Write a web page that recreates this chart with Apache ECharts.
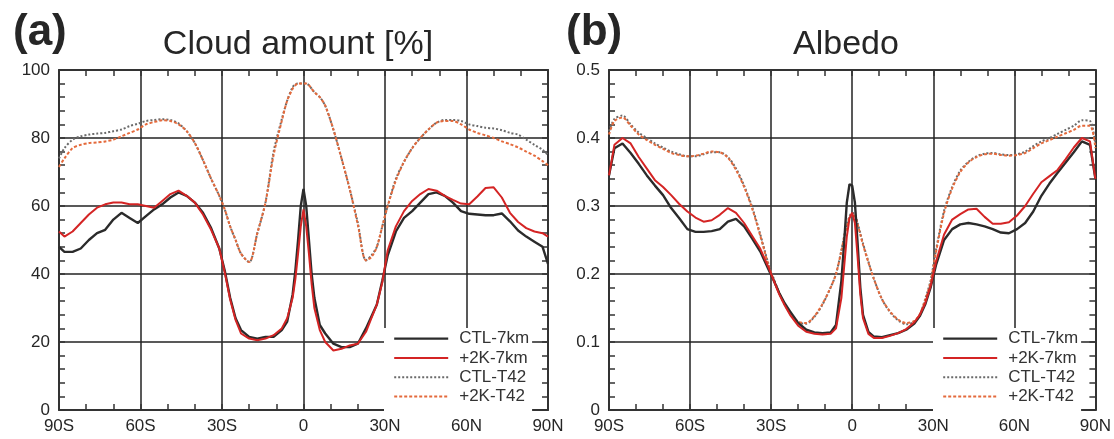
<!DOCTYPE html>
<html>
<head>
<meta charset="utf-8">
<script src="https://cdn.jsdelivr.net/npm/echarts@6/dist/echarts.min.js"></script>
<style>
  html, body { margin: 0; padding: 0; background: #fff; }
  #chart { width: 1114px; height: 439px; }
</style>
</head>
<body>
<div id="chart"></div>
<script>
// Zonal-mean latitude grid (degrees, south negative)
const lat = [-90,-88,-85,-82,-79,-76,-73,-70,-67,-64,-61,-58,-55,-52,-49,-46,-43,-40,-37,-34,-31,-29,-27,-25,-23,-20,-17,-14,-11,-8,-6,-4,-3,-2,-1,0,1,2,3,4,6,8,11,14,17,20,23,25,27,29,31,34,37,40,43,46,49,52,55,58,61,64,67,70,73,76,79,82,85,88,90];

const seriesNames = ['CTL-7km', '+2K-7km', 'CTL-T42', '+2K-T42'];
const latLabels = ['90S', '60S', '30S', '0', '30N', '60N', '90N'];
const cloudTicks = ['0', '20', '40', '60', '80', '100'];
const albedoTicks = ['0', '0.1', '0.2', '0.3', '0.4', '0.5'];

// (a) Cloud amount [%]
const cloudCtl7 = [48,46.5,46.5,47.5,50,52,53,56,58,56.5,55,57,59,60.5,62.5,64,63,61,58,53.5,47.5,41,33,27,23.5,21.5,21,21.5,21.5,23.5,26,34,41,50,60,65,60,50,40,33,25,22.5,19.5,18.5,18.5,19.5,24,27.5,31,38,45.5,52.5,56.5,58.5,61,63.5,64,63,61,58.5,57.7,57.5,57.3,57.3,57.8,55.5,52.8,51,49.5,48,43];
const cloudWarm7 = [52.5,51,52.5,55,57.5,59.5,60.5,61,61,60.5,60.5,60,59.5,61.5,63.5,64.5,63,61,57.5,53,47.5,40.5,32.5,26.5,22.5,21,20.5,21,22,24,27,33,38.5,46,54,59,54,46,37,30,23.5,20,17.5,18,19,19.5,23,27,31,37.5,47,54,58.5,61.5,63.5,65,64.5,63,61.8,60.7,60.5,62.8,65.3,65.5,62.5,58,55.3,53.5,52.5,52,51];
const cloudCtlT42 = [74,77,79.5,80.5,81,81.3,81.5,82,82.5,83.5,84.2,85,85.3,85.5,85.3,84.3,82,78.5,73.5,68,63,59,54,50,46,43.5,52,61,76,85.5,91,95,95.8,96,96,96,96,95.5,94.5,93.5,92,89.5,82.5,74,65,55,44,45.5,48,54,60,68,73,77,80,82.5,84.5,85.3,85.3,85,84,83.5,83,82.8,82.3,81.5,81,79.5,78,76.5,75];
const cloudWarmT42 = [71.5,74,77,78,78.5,78.7,79,79.5,80.5,81.5,82.5,84,84.7,85.2,85,84,82,78.5,73.5,68,63,59,54,50,46,43.5,52,61,75,85,91,94.5,95.5,96,96,96,96,95.5,94.5,93.5,92,89.5,82.5,74,65,54.5,44,45,48,54,60,67.5,73,77,80,82.5,84.5,85,85,84,82.5,81.5,80.8,80,79,78.2,77.2,76,74.8,73.2,72];

// (b) Albedo
const albedoCtl7 = [0.345,0.385,0.392,0.378,0.362,0.345,0.33,0.316,0.297,0.282,0.266,0.262,0.262,0.263,0.266,0.277,0.281,0.27,0.252,0.233,0.207,0.19,0.172,0.157,0.145,0.128,0.118,0.114,0.113,0.114,0.125,0.19,0.245,0.305,0.332,0.33,0.305,0.245,0.18,0.14,0.115,0.108,0.107,0.11,0.113,0.118,0.127,0.138,0.155,0.18,0.213,0.25,0.266,0.273,0.275,0.273,0.27,0.266,0.261,0.26,0.266,0.275,0.292,0.315,0.333,0.349,0.364,0.379,0.395,0.39,0.34];
const albedoWarm7 = [0.345,0.39,0.4,0.392,0.372,0.355,0.338,0.328,0.316,0.303,0.292,0.283,0.277,0.279,0.287,0.297,0.29,0.275,0.256,0.237,0.21,0.19,0.17,0.154,0.14,0.124,0.115,0.112,0.111,0.112,0.12,0.165,0.21,0.255,0.282,0.29,0.275,0.225,0.17,0.135,0.112,0.106,0.106,0.109,0.113,0.119,0.129,0.14,0.157,0.182,0.218,0.258,0.28,0.288,0.295,0.296,0.284,0.274,0.274,0.276,0.286,0.3,0.318,0.335,0.344,0.353,0.369,0.386,0.4,0.395,0.34];
const albedoCtlT42 = [0.41,0.428,0.433,0.42,0.408,0.4,0.392,0.386,0.38,0.376,0.373,0.373,0.376,0.379,0.379,0.372,0.355,0.33,0.298,0.258,0.215,0.193,0.172,0.155,0.142,0.128,0.127,0.137,0.155,0.18,0.2,0.235,0.255,0.272,0.285,0.29,0.287,0.275,0.26,0.245,0.218,0.193,0.163,0.144,0.132,0.126,0.13,0.14,0.163,0.19,0.235,0.293,0.328,0.352,0.365,0.373,0.377,0.378,0.376,0.375,0.376,0.38,0.388,0.395,0.4,0.406,0.412,0.418,0.426,0.425,0.39];
const albedoWarmT42 = [0.405,0.425,0.43,0.418,0.405,0.397,0.39,0.384,0.378,0.375,0.373,0.374,0.377,0.38,0.379,0.371,0.353,0.328,0.296,0.256,0.213,0.191,0.172,0.156,0.143,0.13,0.128,0.138,0.156,0.18,0.2,0.234,0.254,0.27,0.283,0.288,0.285,0.273,0.258,0.243,0.217,0.193,0.163,0.145,0.133,0.128,0.131,0.141,0.162,0.188,0.232,0.29,0.326,0.35,0.364,0.372,0.376,0.377,0.375,0.374,0.375,0.378,0.385,0.392,0.397,0.402,0.407,0.412,0.418,0.418,0.385];

const FONT = "'Liberation Sans', Arial, Helvetica, sans-serif";
const INK = '#262626';

const lineStyles = [
  { color: '#2b2b2b', width: 2.4, type: 'solid' },
  { color: '#d42424', width: 2, type: 'solid' },
  { color: '#6a6a6a', width: 2, type: [2, 2] },
  { color: '#e46a3c', width: 2, type: [3, 2] }
];

function pairs(values) {
  return lat.map((x, i) => [x, values[i]]);
}

function makeSeries(gridIdx, arrays) {
  return arrays.map((arr, k) => ({
    name: seriesNames[k],
    type: 'line',
    xAxisIndex: gridIdx * 2,
    yAxisIndex: gridIdx * 2,
    data: pairs(arr),
    showSymbol: false,
    symbol: 'none',
    smooth: k >= 2 ? 0.3 : false,
    z: k >= 2 ? 2 : 3,
    lineStyle: lineStyles[k],
    itemStyle: { color: lineStyles[k].color },
    emphasis: { disabled: true },
    animation: false
  }));
}

const frameLine = { show: true, onZero: false, lineStyle: { color: '#333', width: 2 } };
const minorTickStyle = { color: '#333', width: 1.5 };
const gridLineStyle = { color: '#222', width: 1.5 };

function xAxes(gridIdx) {
  const base = { gridIndex: gridIdx, type: 'value', min: -90, max: 90, interval: 30 };
  return [
    Object.assign({}, base, {
      position: 'bottom',
      axisLine: frameLine,
      axisTick: { show: true, inside: true, length: 6, lineStyle: minorTickStyle },
      minorTick: { show: true, splitNumber: 3, length: 6, lineStyle: minorTickStyle },
      splitLine: { show: true, lineStyle: gridLineStyle },
      axisLabel: {
        margin: 8, fontSize: 17, fontFamily: FONT, color: INK,
        formatter: v => latLabels[Math.round((v + 90) / 30)]
      }
    }),
    Object.assign({}, base, {
      position: 'top',
      axisLine: frameLine,
      axisTick: { show: true, inside: true, length: 6, lineStyle: minorTickStyle },
      minorTick: { show: true, splitNumber: 3, length: 6, lineStyle: minorTickStyle },
      splitLine: { show: false },
      axisLabel: { show: false }
    })
  ];
}

function yAxes(gridIdx, max, step, ticks) {
  const base = { gridIndex: gridIdx, type: 'value', min: 0, max: max, interval: step };
  return [
    Object.assign({}, base, {
      position: 'left',
      axisLine: frameLine,
      axisTick: { show: true, inside: true, length: 6, lineStyle: minorTickStyle },
      minorTick: { show: true, splitNumber: 5, length: 6, lineStyle: minorTickStyle },
      splitLine: { show: true, lineStyle: gridLineStyle },
      axisLabel: {
        margin: 9, fontSize: 17, fontFamily: FONT, color: INK,
        formatter: v => ticks[Math.round(v / step)]
      }
    }),
    Object.assign({}, base, {
      position: 'right',
      axisLine: frameLine,
      axisTick: { show: true, inside: true, length: 6, lineStyle: minorTickStyle },
      minorTick: { show: true, splitNumber: 5, length: 6, lineStyle: minorTickStyle },
      splitLine: { show: false },
      axisLabel: { show: false }
    })
  ];
}

function legendFor(left) {
  return {
    orient: 'vertical',
    left: left,
    top: 328,
    data: seriesNames,
    itemWidth: 54,
    itemHeight: 14,
    itemGap: 0,
    padding: [1, 3, 5, 9],
    backgroundColor: '#fff',
    selectedMode: false,
    // line samples only, no marker dot
    itemStyle: { opacity: 0 },
    lineStyle: { width: 'inherit' },
    textStyle: { fontSize: 17, lineHeight: 19.3, fontFamily: FONT, color: '#333', padding: [0, 0, 0, 6] }
  };
}

const chart = echarts.init(document.getElementById('chart'), null, { renderer: 'canvas' });

chart.setOption({
  animation: false,
  backgroundColor: '#fff',
  title: [
    { text: '(a)', left: 13, top: 11, padding: 0, textStyle: { fontSize: 44, fontWeight: 'bold', fontFamily: FONT, color: INK } },
    { text: 'Cloud amount [%]', left: 298, top: 28, padding: 0, textAlign: 'center', textStyle: { fontSize: 34, fontWeight: 'normal', fontFamily: FONT, color: INK } },
    { text: '(b)', left: 566, top: 11, padding: 0, textStyle: { fontSize: 44, fontWeight: 'bold', fontFamily: FONT, color: INK } },
    { text: 'Albedo', left: 846, top: 28, padding: 0, textAlign: 'center', textStyle: { fontSize: 34, fontWeight: 'normal', fontFamily: FONT, color: INK } }
  ],
  grid: [
    { left: 59, top: 70, width: 489, height: 340, containLabel: false },
    { left: 609, top: 70, width: 489, height: 340, containLabel: false }
  ],
  legend: [legendFor(384), legendFor(933)],
  xAxis: xAxes(0).concat(xAxes(1)),
  yAxis: yAxes(0, 100, 20, cloudTicks).concat(yAxes(1, 0.5, 0.1, albedoTicks)),
  series: makeSeries(0, [cloudCtl7, cloudWarm7, cloudCtlT42, cloudWarmT42])
    .concat(makeSeries(1, [albedoCtl7, albedoWarm7, albedoCtlT42, albedoWarmT42]))
});
</script>
</body>
</html>
